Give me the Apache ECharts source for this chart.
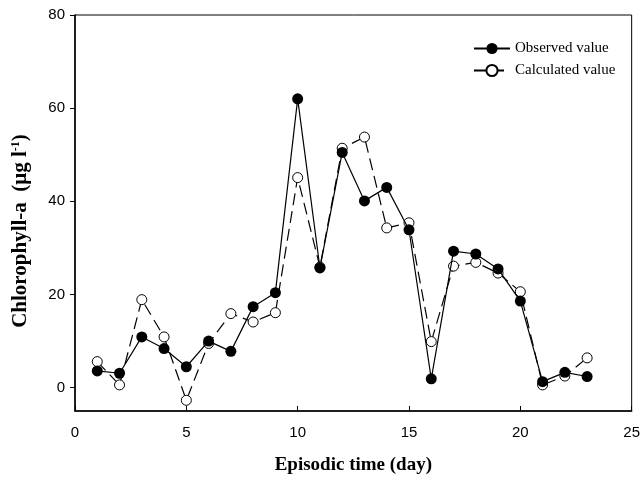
<!DOCTYPE html>
<html>
<head>
<meta charset="utf-8">
<script src="https://cdn.jsdelivr.net/npm/echarts@6/dist/echarts.min.js"></script>
<style>html,body{margin:0;padding:0;background:#fff}#c{width:643px;height:480px}</style>
</head>
<body>
<div id="c"></div>
<script>
const days = [1,2,3,4,5,6,7,8,9,10,11,12,13,14,15,16,17,18,19,20,21,22,23];
const observed = [3.6,3.1,10.9,8.4,4.5,10.0,7.8,17.4,20.4,62.0,25.7,50.5,40.1,43.0,33.9,1.9,29.3,28.7,25.5,18.6,1.3,3.3,2.4];
const calculated = [5.6,0.6,18.9,10.9,-2.7,9.5,15.9,14.1,16.1,45.1,25.9,51.4,53.8,34.3,35.4,9.9,26.1,26.9,24.6,20.6,0.6,2.5,6.4];
const xTicks = [0,5,10,15,20,25];
const yTicks = [0,20,40,60,80];

const chart = echarts.init(document.getElementById('c'));
const serif = 'Liberation Serif';
const sans = 'Liberation Sans';
chart.setOption({
  backgroundColor: '#fff',
  animation: false,
  grid: {left: 75, right: 9, top: 15, bottom: 68, show: true, borderColor: '#000', borderWidth: 1},
  legend: {
    left: 468, top: 36, orient: 'vertical', itemGap: 7, itemWidth: 36, itemHeight: 14,
    textStyle: {fontFamily: serif, fontSize: 15, color: '#000'},
    data: ['Observed value', 'Calculated value']
  },
  graphic: [{
    type: 'text', x: 21, y: 231, rotation: Math.PI / 2,
    style: {
      text: '{m|Chlorophyll-a  (μg l}{s|-1}{m|)}',
      align: 'center', verticalAlign: 'middle',
      rich: {
        m: {fontFamily: serif, fontWeight: 'bold', fontSize: 21, fill: '#000', lineHeight: 22},
        s: {fontFamily: serif, fontWeight: 'bold', fontSize: 12, fill: '#000', verticalAlign: 'top', lineHeight: 22}
      }
    }
  }],
  xAxis: {
    type: 'value', min: 0, max: 25, interval: 5,
    name: 'Episodic time (day)', nameLocation: 'middle', nameGap: 45,
    nameTextStyle: {fontFamily: serif, fontWeight: 'bold', fontSize: 19, color: '#000'},
    axisLine: {onZero: false, lineStyle: {color: '#000', width: 1.5}},
    axisTick: {inside: true, length: 5, lineStyle: {color: '#000'}},
    axisLabel: {margin: 14, fontFamily: sans, fontSize: 15, color: '#000'},
    splitLine: {show: false}
  },
  yAxis: {
    type: 'value', min: -5, max: 80,
    axisLine: {onZero: false, lineStyle: {color: '#000', width: 1.5}},
    axisTick: {length: 5, lineStyle: {color: '#000'}, customValues: yTicks},
    axisLabel: {margin: 10, fontFamily: sans, fontSize: 15, color: '#000', customValues: yTicks},
    splitLine: {show: false}
  },
  series: [
    {
      name: 'Calculated value', type: 'line', z: 2,
      data: days.map((d, i) => [d, calculated[i]]),
      symbol: 'circle', symbolSize: 10,
      itemStyle: {color: '#fff', borderColor: '#000', borderWidth: 1},
      lineStyle: {color: '#000', width: 1.2, type: [12, 6]}
    },
    {
      name: 'Observed value', type: 'line', z: 3,
      data: days.map((d, i) => [d, observed[i]]),
      symbol: 'circle', symbolSize: 11,
      itemStyle: {color: '#000', borderColor: '#000', borderWidth: 0},
      lineStyle: {color: '#000', width: 1.2}
    }
  ]
});
</script>
</body>
</html>
